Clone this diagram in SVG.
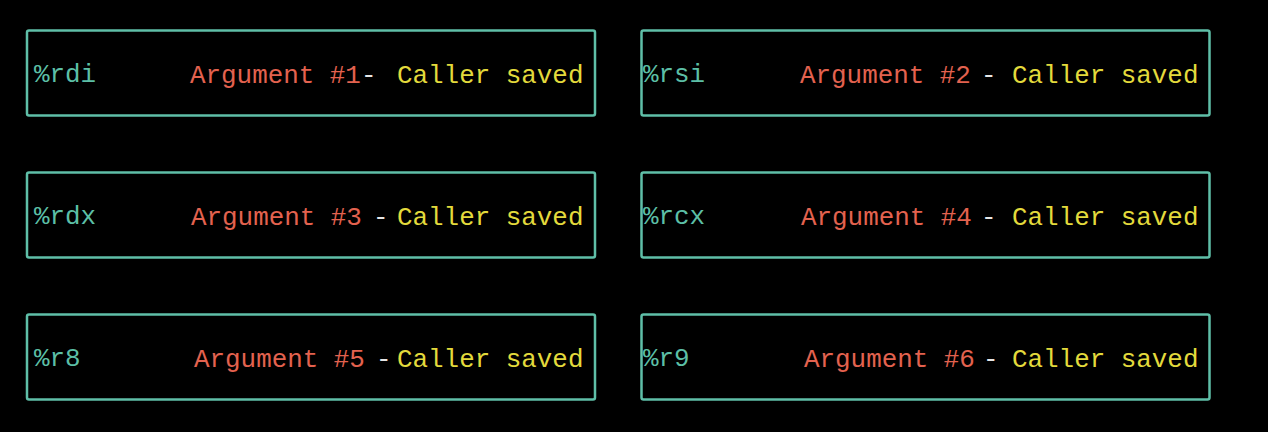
<svg xmlns="http://www.w3.org/2000/svg" width="1268" height="432" viewBox="0 0 1268 432">
<style>
.box{fill:none;stroke:#5fbfa8;stroke-width:2.5}
text{font-family:"Liberation Mono","DejaVu Sans Mono",monospace;font-size:25.9px}
.reg{fill:#5cbfa6}
.arg{fill:#e3624f}
.dash{fill:#e6e6e6}
.cs{fill:#e3da3c}
</style>
<rect x="0" y="0" width="1268" height="432" fill="#000"/>
<g id="rdi">
<rect class="box" x="27" y="30.5" width="568" height="85" rx="2"/>
<text class="reg" x="34" y="82">%rdi</text>
<text class="arg" x="190" y="83">Argument #1</text>
<text class="dash" x="361" y="83">-</text>
<text class="cs" x="397" y="83">Caller saved</text>
</g>
<g id="rsi">
<rect class="box" x="641.5" y="30.5" width="568" height="85" rx="2"/>
<text class="reg" x="643" y="82">%rsi</text>
<text class="arg" x="800" y="83">Argument #2</text>
<text class="dash" x="981" y="83">-</text>
<text class="cs" x="1012" y="83">Caller saved</text>
</g>
<g id="rdx">
<rect class="box" x="27" y="172.5" width="568" height="85" rx="2"/>
<text class="reg" x="34" y="224">%rdx</text>
<text class="arg" x="191" y="225">Argument #3</text>
<text class="dash" x="373" y="225">-</text>
<text class="cs" x="397" y="225">Caller saved</text>
</g>
<g id="rcx">
<rect class="box" x="641.5" y="172.5" width="568" height="85" rx="2"/>
<text class="reg" x="643" y="224">%rcx</text>
<text class="arg" x="801" y="225">Argument #4</text>
<text class="dash" x="981" y="225">-</text>
<text class="cs" x="1012" y="225">Caller saved</text>
</g>
<g id="r8">
<rect class="box" x="27" y="314.5" width="568" height="85" rx="2"/>
<text class="reg" x="34" y="366">%r8</text>
<text class="arg" x="194" y="367">Argument #5</text>
<text class="dash" x="376" y="367">-</text>
<text class="cs" x="397" y="367">Caller saved</text>
</g>
<g id="r9">
<rect class="box" x="641.5" y="314.5" width="568" height="85" rx="2"/>
<text class="reg" x="643" y="366">%r9</text>
<text class="arg" x="804" y="367">Argument #6</text>
<text class="dash" x="983" y="367">-</text>
<text class="cs" x="1012" y="367">Caller saved</text>
</g>
<g id="connectors"/>
</svg>
